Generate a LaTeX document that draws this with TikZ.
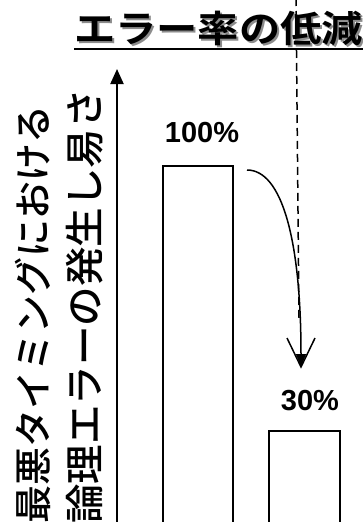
\documentclass[tikz,border=0pt]{standalone}
\usepackage{fontspec}
\setmainfont{Liberation Sans}
\newfontfamily\jpfont{Noto Sans CJK JP Medium}
\newfontfamily\jpbold{Noto Sans CJK JP Bold}
\usetikzlibrary{arrows.meta}
\begin{document}
\begin{tikzpicture}[x=1pt,y=-1pt,
  bar/.style={draw=black,line width=1.5pt,fill=white},
  pct/.style={font=\fontsize{29}{29}\selectfont\bfseries,inner sep=0pt},
  ylab/.style={font=\jpfont\fontsize{38}{38}\selectfont,rotate=90,anchor=west,inner sep=0pt},
  ttl/.style={font=\jpbold\fontsize{37}{37}\selectfont,xscale=1.115,inner sep=0pt},
  barb/.style={line width=1.5pt}]
\useasboundingbox (0,0) rectangle (363,522);
\clip (0,0) rectangle (363,522);
% dashed guide
\coordinate (dtop) at (296,-2);
\coordinate (dbot) at (299,318);
\draw[line width=1.5pt,dash pattern=on 8pt off 5pt] (dtop) -- (dbot);
% title
\node[ttl,text=black!45] at (220.5,30) {エラー率の低減};
\node[ttl] (title) at (218.5,28) {エラー率の低減};
\coordinate (ul1) at (74,49);
\coordinate (ul2) at (363,49);
\draw[line width=2.2pt] (ul1) -- (ul2);
% y axis
\coordinate (ybot) at (117,530);
\coordinate (ytop) at (117,69);
\draw[line width=2pt,-{Triangle[length=15pt,width=13pt]}] (ybot) -- (ytop);
% y label
\node[ylab] (yl1) at (33,524) {最悪タイミングにおける};
\node[ylab,font=\jpfont\fontsize{39.5}{39.5}\selectfont] (yl2) at (85,524) {論理エラーの発生し易さ};
% bars
\node[bar,minimum width=70pt,minimum height=370pt,anchor=north west,inner sep=0pt] (b1) at (162,165) {};
\node[bar,minimum width=71pt,minimum height=100pt,anchor=north west,inner sep=0pt] (b2) at (268,430) {};
% labels
\node[pct] (p1) at (202,133) {100\%};
\node[pct] (p2) at (310,401) {30\%};
% curved arrow
\coordinate (cs) at (247,170);
\coordinate (ce) at (301,367);
\coordinate (bl) at (287,338);
\coordinate (br) at (315,338);
\draw[line width=1.5pt,-{Triangle[length=13pt,width=10pt]}] (cs) .. controls (282,170) and (301,240) .. (ce);
\draw[barb] (bl) -- (ce) -- (br);
\end{tikzpicture}
\end{document}
